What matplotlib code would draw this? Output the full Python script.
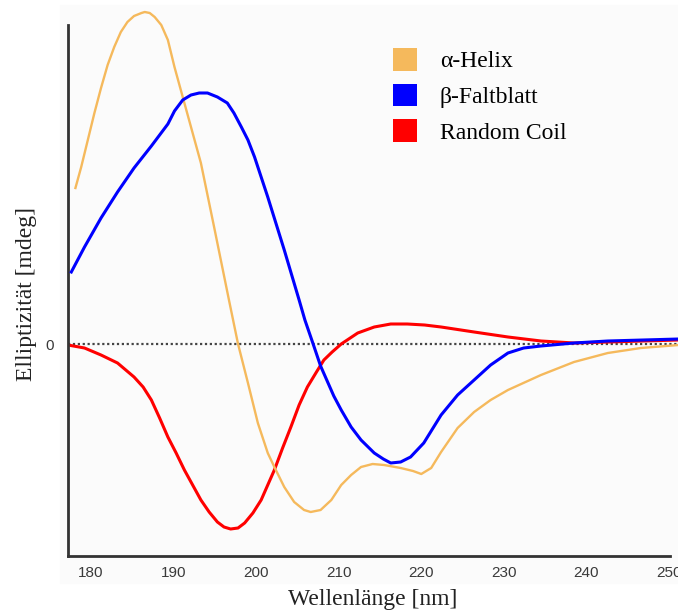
import matplotlib.pyplot as plt
from matplotlib.patches import Patch, Rectangle
import numpy as np

# CD spectra (wavelength in nm, ellipticity in arbitrary mdeg units)
helix_nm = [178.1, 178.8, 179.6, 180.4, 181.2, 182.0, 182.8, 183.6, 184.4, 185.2, 186.1,
            186.5, 187.1, 187.7, 188.5, 189.3, 190.1, 191.1, 192.1, 193.3, 194.9, 196.7,
            197.8, 199.0, 200.2, 201.4, 202.2, 203.4, 204.6, 205.8, 206.6, 207.8, 209.1,
            210.3, 211.5, 212.7, 214.1, 215.5, 217.5, 219.0, 220.0, 221.2, 222.4, 224.4,
            226.4, 228.4, 230.5, 234.5, 238.5, 242.6, 246.6, 251.2]
helix_val = [15.6, 17.7, 20.4, 23.1, 25.6, 27.9, 29.7, 31.2, 32.2, 32.8, 33.1,
             33.2, 33.1, 32.7, 31.9, 30.4, 27.7, 24.7, 21.7, 18.1, 11.7, 4.4,
             0.0, -3.9, -7.9, -10.9, -12.3, -14.3, -15.8, -16.6, -16.8, -16.6, -15.6,
             -14.1, -13.1, -12.3, -12.0, -12.1, -12.4, -12.7, -13.0, -12.4, -10.8, -8.4,
             -6.8, -5.6, -4.6, -3.1, -1.8, -0.9, -0.4, -0.1]

sheet_nm = [177.6, 179.2, 181.2, 183.2, 185.2, 187.3, 189.3, 190.1, 191.1, 192.1, 193.1,
            194.1, 195.3, 196.5, 197.3, 198.2, 199.0, 199.8, 201.4, 203.4, 205.2, 205.9,
            206.9, 207.8, 209.4, 210.3, 211.5, 212.7, 214.3, 215.4, 216.3, 217.5, 218.7,
            220.3, 222.4, 224.4, 226.4, 228.4, 230.5, 232.4, 234.5, 238.5, 242.6, 251.2]
sheet_val = [7.2, 9.7, 12.6, 15.2, 17.6, 19.8, 22.0, 23.3, 24.4, 24.9, 25.1,
             25.1, 24.7, 24.1, 23.1, 21.7, 20.4, 18.7, 14.7, 9.4, 4.4, 2.4,
             0.0, -2.2, -5.2, -6.6, -8.3, -9.6, -10.9, -11.5, -11.9, -11.8, -11.3,
             -9.9, -7.1, -5.1, -3.6, -2.1, -0.9, -0.4, -0.2, 0.1, 0.3, 0.5]

coil_nm = [177.2, 179.2, 181.2, 183.2, 185.2, 186.3, 187.3, 188.3, 189.3, 190.3, 191.3,
           192.3, 193.3, 194.3, 195.3, 196.1, 196.9, 197.8, 198.6, 199.6, 200.6, 201.4,
           202.2, 203.2, 204.2, 205.2, 206.2, 207.3, 208.2, 209.2, 210.3, 212.3, 214.3,
           216.3, 218.3, 220.4, 222.4, 226.4, 230.5, 234.5, 238.5, 242.6, 251.2]
coil_val = [-0.1, -0.4, -1.1, -1.9, -3.3, -4.3, -5.6, -7.4, -9.3, -10.9, -12.6,
            -14.1, -15.6, -16.8, -17.8, -18.3, -18.5, -18.4, -17.9, -16.9, -15.6, -14.1,
            -12.6, -10.4, -8.3, -6.1, -4.3, -2.8, -1.6, -0.8, 0.0, 1.1, 1.7,
            2.0, 2.0, 1.9, 1.7, 1.2, 0.7, 0.3, 0.1, 0.2, 0.4]

xticks = [180, 190, 200, 210, 220, 230, 240, 250]
labels = ['α-Helix', 'β-Faltblatt', 'Random Coil']
colors = ['#f5b95c', '#0000ff', '#ff0000']

fig = plt.figure(figsize=(6.78, 6.12), dpi=100)
fig.patches.append(Rectangle((60 / 678, 29 / 612), 618 / 678, 578 / 612,
                             transform=fig.transFigure, color='#fbfbfb', zorder=-10))
ax = fig.add_axes([68 / 678, 56 / 612, 610 / 678, 551 / 612])
ax.set_facecolor('none')

ax.axhline(0, color='#444444', lw=1.6, ls=(0, (1, 1.2)), zorder=1)
ax.plot(helix_nm, helix_val, color=colors[0], lw=1.7, solid_joinstyle='round', zorder=3)
ax.plot(sheet_nm, sheet_val, color=colors[1], lw=2.2, solid_joinstyle='round', zorder=3)
ax.plot(coil_nm, coil_val, color=colors[2], lw=2.2, solid_joinstyle='round', zorder=2)

ax.set_xlim(177.2, 251.1)
ax.set_ylim(-21.2, 33.9)

for s in ['top', 'right']:
    ax.spines[s].set_visible(False)
ax.spines['left'].set_bounds(-21.2, 31.9)
ax.spines['bottom'].set_bounds(177.2, 250.1)
for s in ['left', 'bottom']:
    ax.spines[s].set_linewidth(2.0)
    ax.spines[s].set_color('#333333')

ax.set_xticks(xticks)
ax.set_yticks([0])
ax.tick_params(axis='x', length=0, pad=7, labelsize=11, labelcolor='#3a3a3a')
ax.tick_params(axis='y', length=0, pad=10, labelsize=11, labelcolor='#3a3a3a')
for t in ax.get_xticklabels() + ax.get_yticklabels():
    t.set_fontfamily('Liberation Sans')

ax.set_xlabel('Wellenlänge [nm]', family='Liberation Serif', fontsize=17, color='#222222', labelpad=7)
ax.set_ylabel('Elliptizität [mdeg]', family='Liberation Serif', fontsize=17, color='#222222')
ax.yaxis.set_label_coords(37 / 678, 1 - 294 / 612, transform=fig.transFigure)

handles = [Patch(facecolor=c, edgecolor='none') for c in colors]
ax.legend(handles, labels, loc='upper left', bbox_to_anchor=(393 / 678, 1 - 48 / 612),
          bbox_transform=fig.transFigure, frameon=False, borderpad=0, borderaxespad=0,
          handlelength=1.02, handleheight=1.1, handletextpad=0.97, labelspacing=0.48,
          prop={'family': 'Liberation Serif', 'size': 17})

fig.savefig('out.png', dpi=100)
